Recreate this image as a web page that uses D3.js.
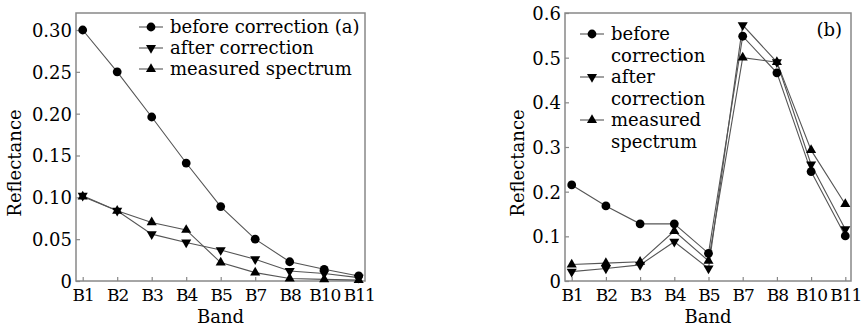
<!DOCTYPE html>
<html>
<head>
<meta charset="utf-8">
<script src="https://cdn.jsdelivr.net/npm/d3@7"></script>
<style>
  body { margin: 0; background: #fff; }
  text { font-family: "DejaVu Serif", serif; fill: #000; }
</style>
</head>
<body>
<script>
const bands = ["B1", "B2", "B3", "B4", "B5", "B7", "B8", "B10", "B11"];

// panel (a)
const beforeA   = [0.300, 0.250, 0.196, 0.141, 0.089, 0.050, 0.023, 0.014, 0.006];
const afterA    = [0.102, 0.084, 0.056, 0.046, 0.037, 0.026, 0.012, 0.009, 0.004];
const measuredA = [0.101, 0.084, 0.070, 0.061, 0.022, 0.010, 0.003, 0.002, 0.001];
const ticksA = [0, 0.05, 0.10, 0.15, 0.20, 0.25, 0.30];

// panel (b)
const beforeB   = [0.215, 0.168, 0.128, 0.128, 0.062, 0.548, 0.466, 0.245, 0.101];
const afterB    = [0.021, 0.028, 0.036, 0.088, 0.028, 0.573, 0.490, 0.261, 0.116];
const measuredB = [0.037, 0.040, 0.043, 0.112, 0.045, 0.500, 0.490, 0.293, 0.172];
const ticksB = [0, 0.1, 0.2, 0.3, 0.4, 0.5, 0.6];

const W = 868, H = 328;
const FS = "18px";
const svg = d3.select("body").append("svg").attr("width", W).attr("height", H);

const lineCol = "#555", frameCol = "#888";

function marker(g, kind, x, y) {
  if (kind == "circle") {
    g.append("circle").attr("cx", x).attr("cy", y).attr("r", 4.4).attr("fill", "#000");
  } else {
    const sym = d3.symbol().type(d3.symbolTriangle).size(44);
    g.append("path").attr("d", sym)
      .attr("transform", "translate(" + x + "," + y + ")" + (kind == "down" ? " rotate(180)" : ""))
      .attr("fill", "#000");
  }
}

function panel(opt) {
  const g = svg.append("g");
  const x = d3.scalePoint().domain(bands).range([opt.x0, opt.x1]);
  const y = d3.scaleLinear().domain([0, opt.ymax]).range([opt.y0, opt.y1]);

  // frame
  g.append("rect").attr("x", opt.left).attr("y", opt.top)
    .attr("width", opt.right - opt.left).attr("height", opt.y0 - opt.top)
    .attr("fill", "none").attr("stroke", frameCol).attr("stroke-width", 1.5);

  const yAxis = d3.axisLeft(y).tickValues(opt.ticks).tickSize(-4).tickPadding(4)
    .tickFormat(opt.fmt);
  const ya = g.append("g").attr("transform", "translate(" + opt.left + ",0)").call(yAxis);
  const xAxis = d3.axisBottom(x).tickSize(-4).tickPadding(8);
  const xa = g.append("g").attr("transform", "translate(0," + opt.y0 + ")").call(xAxis);
  [ya, xa].forEach(a => {
    a.attr("font-family", null).attr("font-size", null);
    a.select(".domain").remove();
    a.selectAll("line").attr("stroke", frameCol).attr("stroke-width", 1.2);
    a.selectAll("text").style("font-family", "DejaVu Serif").style("font-size", FS).attr("fill", "#000");
  });
  ya.selectAll("text").attr("dy", "0.36em");
  xa.selectAll("text").style("font-size", "17px").style("letter-spacing", "-1px");

  const line = d3.line().x((d, i) => x(bands[i])).y(d => y(d));
  opt.series.forEach(s => {
    g.append("path").attr("d", line(s.values)).attr("fill", "none")
      .attr("stroke", lineCol).attr("stroke-width", 1.1);
  });
  opt.series.forEach(s => {
    s.values.forEach((v, i) => marker(g, s.kind, x(bands[i]), y(v)));
  });

  g.append("text").attr("transform", "translate(" + opt.ytx + "," + ((opt.y0 + opt.top) / 2 + 16) + ") rotate(-90)")
    .attr("text-anchor", "middle").attr("dy", "0.35em").style("font-size", FS).text("Reflectance");
  g.append("text").attr("x", (opt.left + opt.right) / 2).attr("y", 323)
    .attr("text-anchor", "middle").style("font-size", FS).text("Band");

  // legend
  opt.legend.forEach(l => {
    g.append("line").attr("x1", opt.lx).attr("x2", opt.lx + 24)
      .attr("y1", l.y).attr("y2", l.y).attr("stroke", lineCol).attr("stroke-width", 1.1);
    marker(g, l.kind, opt.lx + 12, l.y);
    l.lines.forEach((t, k) => {
      g.append("text").attr("x", opt.lx + 31).attr("y", l.y + 6 + k * 21.5)
        .style("font-size", FS).text(t);
    });
  });
  return g;
}

panel({
  left: 76, right: 365, top: 13, x0: 82.7, x1: 358.7, y0: 281, y1: 30, ymax: 0.30,
  ticks: ticksA, fmt: d => d == 0 ? "0" : d3.format(".2f")(d), ytx: 15,
  series: [
    { values: beforeA, kind: "circle" },
    { values: afterA, kind: "down" },
    { values: measuredA, kind: "up" }
  ],
  lx: 139,
  legend: [
    { kind: "circle", y: 27, lines: ["before correction (a)"] },
    { kind: "down", y: 48, lines: ["after correction"] },
    { kind: "up", y: 69, lines: ["measured spectrum"] }
  ]
});

const pb = panel({
  left: 565, right: 851, top: 13, x0: 571.7, x1: 845.3, y0: 281, y1: 13, ymax: 0.6,
  ticks: ticksB, fmt: d => d == 0 ? "0" : d3.format(".1f")(d), ytx: 518,
  series: [
    { values: beforeB, kind: "circle" },
    { values: afterB, kind: "down" },
    { values: measuredB, kind: "up" }
  ],
  lx: 580,
  legend: [
    { kind: "circle", y: 34, lines: ["before", "correction"] },
    { kind: "down", y: 77, lines: ["after", "correction"] },
    { kind: "up", y: 120, lines: ["measured", "spectrum"] }
  ]
});
pb.append("text").attr("x", 842).attr("y", 36).attr("text-anchor", "end")
  .style("font-size", FS).text("(b)");
</script>
</body>
</html>
